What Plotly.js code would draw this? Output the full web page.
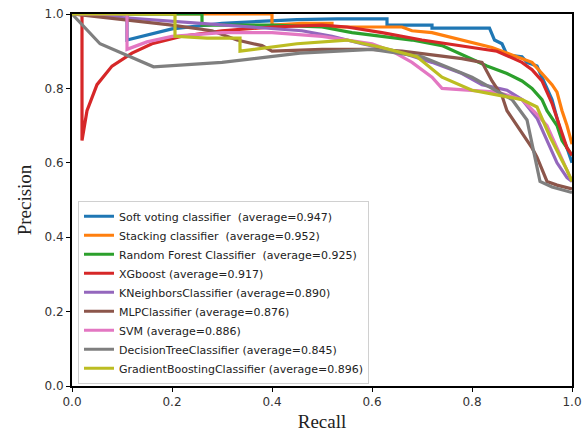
<!DOCTYPE html>
<html>
<head>
<meta charset="utf-8">
<script src="https://cdn.plot.ly/plotly-3.0.1.min.js"></script>
<style>html,body{margin:0;padding:0;background:#fff;}#chart{width:587px;height:435px;}</style>
</head>
<body>
<div id="chart"></div>
<script>
const names = [
  "Soft voting classifier\u00a0 (average=0.947)",
  "Stacking classifier\u00a0 (average=0.952)",
  "Random Forest Classifier\u00a0 (average=0.925)",
  "XGboost (average=0.917)",
  "KNeighborsClassifier (average=0.890)",
  "MLPClassifier (average=0.876)",
  "SVM (average=0.886)",
  "DecisionTreeClassifier (average=0.845)",
  "GradientBoostingClassifier (average=0.896)"
];
const colors = ["#1f77b4","#ff7f0e","#2ca02c","#d62728","#9467bd","#8c564b","#e377c2","#7f7f7f","#bcbd22"];

const softRecall = [0,0.11,0.11,0.2,0.3,0.45,0.53,0.63,0.63,0.72,0.72,0.835,0.845,0.86,0.87,0.9,0.91,0.93,0.94,0.95,0.96,0.97,0.98,0.99,1.0];
const softPrec   = [1,1,0.93,0.96,0.975,0.985,0.987,0.987,0.97,0.97,0.962,0.962,0.93,0.92,0.89,0.885,0.87,0.86,0.83,0.80,0.77,0.72,0.67,0.64,0.60];

const stackRecall = [0,0.4,0.4,0.46,0.52,0.52,0.66,0.68,0.72,0.78,0.84,0.88,0.92,0.94,0.96,0.97,0.98,0.99,1.0];
const stackPrec   = [1,1,0.97,0.975,0.975,0.965,0.965,0.955,0.95,0.93,0.91,0.89,0.87,0.84,0.81,0.79,0.74,0.70,0.65];

const rfRecall = [0,0.26,0.26,0.4,0.5,0.56,0.62,0.68,0.74,0.78,0.83,0.87,0.9,0.92,0.94,0.95,0.97,0.98,1.0];
const rfPrec   = [1,1,0.97,0.97,0.965,0.95,0.94,0.93,0.915,0.89,0.86,0.84,0.82,0.80,0.77,0.74,0.70,0.66,0.62];

const xgbRecall = [0,0.02,0.02,0.03,0.05,0.08,0.12,0.16,0.22,0.3,0.4,0.5,0.55,0.62,0.7,0.78,0.85,0.9,0.92,0.94,0.96,0.97,0.98,0.99,1.0];
const xgbPrec   = [1,1,0.66,0.74,0.81,0.86,0.895,0.92,0.94,0.955,0.965,0.97,0.965,0.95,0.93,0.915,0.90,0.87,0.85,0.82,0.76,0.72,0.68,0.64,0.62];

const knnRecall = [0,0.1,0.2,0.3,0.4,0.46,0.52,0.58,0.65,0.72,0.78,0.82,0.87,0.9,0.93,0.95,0.97,0.99,1.0];
const knnPrec   = [1,0.99,0.98,0.97,0.96,0.955,0.94,0.92,0.90,0.87,0.84,0.81,0.795,0.77,0.72,0.66,0.60,0.56,0.55];

const mlpRecall = [0,0.1,0.2,0.28,0.33,0.38,0.4,0.5,0.6,0.66,0.72,0.78,0.82,0.84,0.86,0.87,0.88,0.9,0.92,0.93,0.94,0.95,0.97,1.0];
const mlpPrec   = [1,0.985,0.97,0.955,0.93,0.915,0.90,0.905,0.905,0.90,0.89,0.88,0.87,0.82,0.78,0.74,0.72,0.68,0.64,0.615,0.58,0.55,0.54,0.53];

const svmRecall = [0,0.11,0.11,0.15,0.2,0.3,0.4,0.5,0.6,0.64,0.68,0.72,0.74,0.8,0.85,0.9,0.93,0.95,0.97,0.99,1.0];
const svmPrec   = [1,1,0.905,0.925,0.94,0.95,0.95,0.94,0.92,0.90,0.87,0.83,0.80,0.795,0.79,0.77,0.73,0.70,0.64,0.58,0.55];

const dtRecall = [0,0.056,0.163,0.3,0.456,0.6,0.7,0.8,0.88,0.91,0.936,0.96,1.0];
const dtPrec   = [1,0.92,0.858,0.87,0.895,0.905,0.885,0.83,0.77,0.715,0.55,0.535,0.52];

const gbRecall = [0,0.206,0.206,0.27,0.336,0.336,0.45,0.55,0.62,0.69,0.74,0.8,0.86,0.9,0.93,0.956,0.99,1.0];
const gbPrec   = [1,1,0.94,0.935,0.935,0.90,0.92,0.93,0.91,0.885,0.83,0.795,0.78,0.77,0.75,0.67,0.58,0.55];

const recalls = [softRecall, stackRecall, rfRecall, xgbRecall, knnRecall, mlpRecall, svmRecall, dtRecall, gbRecall];
const precs = [softPrec, stackPrec, rfPrec, xgbPrec, knnPrec, mlpPrec, svmPrec, dtPrec, gbPrec];

const traces = names.map((n, i) => ({
  x: recalls[i], y: precs[i], name: n, type: 'scatter', mode: 'lines',
  line: {color: colors[i], width: 3.2}
}));

const tickFont = {family: 'DejaVu Sans', size: 12, color: '#333'};
const layout = {
  width: 587, height: 435,
  margin: {l: 72, r: 15, t: 14, b: 49},
  paper_bgcolor: '#fff', plot_bgcolor: '#fff',
  showlegend: true,
  legend: {
    x: 0.012, y: 0.006, xanchor: 'left', yanchor: 'bottom',
    bgcolor: 'rgba(255,255,255,0.8)', bordercolor: '#d0d0d0', borderwidth: 1,
    font: {family: 'DejaVu Sans', size: 11, color: '#222'},
    tracegroupgap: 0, itemwidth: 30
  },
  xaxis: {
    range: [0, 1], dtick: 0.2, tickformat: '.1f', showgrid: false, zeroline: false,
    showline: true, mirror: true, linecolor: '#000', linewidth: 2,
    ticks: 'outside', ticklen: 4, tickcolor: '#000', tickfont: tickFont,
    title: {text: 'Recall', font: {family: 'Liberation Serif', size: 19, color: '#222'}, standoff: 6}
  },
  yaxis: {
    range: [0, 1], dtick: 0.2, tickformat: '.1f', showgrid: false, zeroline: false,
    showline: true, mirror: true, linecolor: '#000', linewidth: 2,
    ticks: 'outside', ticklen: 4, tickcolor: '#000', tickfont: tickFont,
    title: {text: 'Precision', font: {family: 'Liberation Serif', size: 19, color: '#222'}, standoff: 8}
  }
};
Plotly.newPlot('chart', traces, layout, {displayModeBar: false, staticPlot: true});
</script>
</body>
</html>
